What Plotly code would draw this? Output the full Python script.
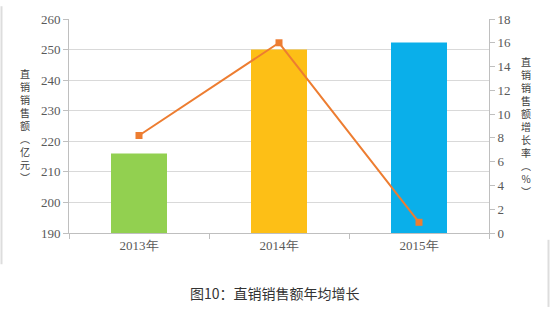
import plotly.graph_objects as go

years = ["2013年", "2014年", "2015年"]
sales = [216, 250, 252.3]
growth = [8.2, 16.0, 0.9]
bar_colors = ["#92D050", "#FDBF16", "#0AAFEA"]
left_title_chars = list("直销销售额") + ["︵", "亿", "元", "︶"]
right_title_chars = list("直销销售额增长率") + ["︵", "%", "︶"]

serif = '"Liberation Serif", "DejaVu Serif", serif'
cjk = '"Noto Sans CJK SC", sans-serif'

L, R, T, B = 69, 61, 13, 76
W, H = 550, 309
pw, ph = W - L - R, H - T - B


def px(x):
    return (x - L) / pw


def py(y):
    return (H - B - y) / ph


fig = go.Figure()
fig.add_trace(go.Bar(x=years, y=sales, marker=dict(color=bar_colors, line=dict(width=0)),
                     yaxis="y", showlegend=False, hoverinfo="skip"))
fig.add_trace(go.Scatter(x=years, y=growth, yaxis="y2", mode="lines+markers",
                         line=dict(color="#ED7D31", width=2),
                         marker=dict(symbol="square", size=7, color="#ED7D31"),
                         showlegend=False))

fig.update_layout(
    width=W, height=H,
    margin=dict(l=L, r=R, t=T, b=B),
    paper_bgcolor="white", plot_bgcolor="white",
    bargap=0.6,
    font=dict(family=serif, size=13, color="#595959"),
    xaxis=dict(showline=True, linecolor="#BFBFBF", linewidth=1,
               ticks="outside", ticklen=5, tickcolor="#BFBFBF",
               tickson="boundaries", showgrid=False,
               tickfont=dict(family=serif, size=13, color="#595959")),
    yaxis=dict(range=[190, 260], dtick=10, showgrid=True, gridcolor="#D9D9D9",
               showline=True, linecolor="#BFBFBF", ticks="outside", ticklen=5,
               tickcolor="#BFBFBF", zeroline=False,
               tickfont=dict(family=serif, size=13, color="#595959")),
    yaxis2=dict(range=[0, 18], dtick=2, overlaying="y", side="right",
                showgrid=False, showline=True, linecolor="#BFBFBF", ticks="outside",
                ticklen=5, tickcolor="#BFBFBF", zeroline=False,
                tickfont=dict(family=serif, size=13, color="#595959")),
)

fig.add_annotation(text="<br>".join(left_title_chars), xref="paper", yref="paper",
                   x=px(25), y=py(122), xanchor="center", yanchor="middle",
                   showarrow=False, align="center",
                   font=dict(family=cjk, size=10, color="#404040"))
fig.add_annotation(text="<br>".join(right_title_chars), xref="paper", yref="paper",
                   x=px(526), y=py(124), xanchor="center", yanchor="middle",
                   showarrow=False, align="center",
                   font=dict(family=cjk, size=10, color="#404040"))

fig.add_annotation(text="图10：直销销售额年均增长", xref="paper", yref="paper",
                   x=px(275), y=py(295), xanchor="center", yanchor="middle", showarrow=False,
                   font=dict(family=cjk, size=14, color="#333333"))

fig.add_shape(type="line", xref="paper", yref="paper", x0=px(1.5), x1=px(1.5),
              y0=py(0), y1=py(265), line=dict(color="#DDDDDD", width=2))
fig.add_shape(type="line", xref="paper", yref="paper", x0=px(548.5), x1=px(548.5),
              y0=py(240), y1=py(309), line=dict(color="#DDDDDD", width=2))

fig.write_html("out.html")
